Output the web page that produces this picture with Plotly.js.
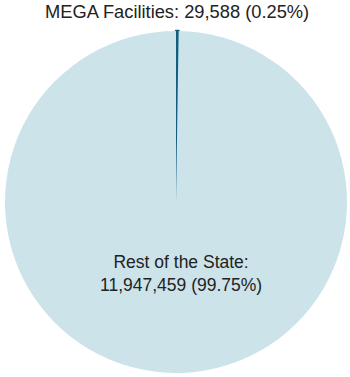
<!DOCTYPE html>
<html>
<head>
<meta charset="utf-8">
<script src="https://cdn.plot.ly/plotly-3.0.1.min.js"></script>
<style>html,body{margin:0;padding:0;background:#fff;}#chart{width:350px;height:377px;}</style>
</head>
<body>
<div id="chart"></div>
<script>
const labels = ['MEGA Facilities', 'Rest of the State'];
const values = [29588, 11947459];
const colors = ['#115e80', '#cce3ea'];

const total = values.reduce((a, b) => a + b, 0);
const fmt = v => v.toLocaleString('en-US');
const pct = v => (100 * v / total).toFixed(2) + '%';
const font = {family: 'Liberation Sans, Arial, sans-serif', size: 17.5, color: '#222'};
const topFont = {family: 'Liberation Sans, Arial, sans-serif', size: 18.3, color: '#222'};

Plotly.newPlot('chart', [{
  type: 'pie',
  labels: labels,
  values: values,
  sort: false,
  direction: 'clockwise',
  rotation: 0,
  marker: {colors: colors, line: {color: colors, width: [2.5, 0]}},
  textinfo: 'none',
  hoverinfo: 'none',
  showlegend: false
}], {
  width: 350, height: 377,
  margin: {l: 4, r: 2, t: 31, b: 4, pad: 0},
  paper_bgcolor: '#fff',
  showlegend: false,
  annotations: [
    {text: labels[0] + ': ' + fmt(values[0]) + ' (' + pct(values[0]) + ')',
     xref: 'paper', yref: 'paper', x: 0.504, y: 1.0556, xanchor: 'center', yanchor: 'middle',
     showarrow: false, font: topFont},
    {text: labels[1] + ':<br>' + fmt(values[1]) + ' (' + pct(values[1]) + ')',
     xref: 'paper', yref: 'paper', x: 0.5145, y: 0.2895, xanchor: 'center', yanchor: 'middle',
     showarrow: false, font: font}
  ]
}, {displayModeBar: false, staticPlot: true});
</script>
</body>
</html>
